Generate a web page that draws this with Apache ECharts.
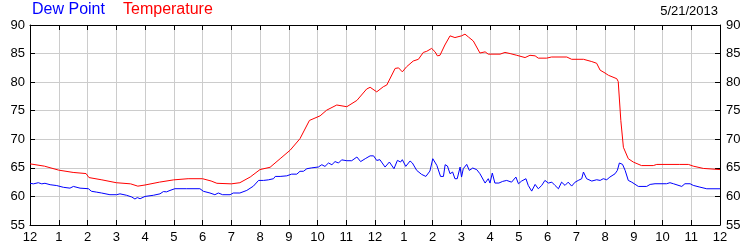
<!DOCTYPE html>
<html><head><meta charset="utf-8">
<script src="https://cdn.jsdelivr.net/npm/echarts@6/dist/echarts.min.js"></script>
<style>html,body{margin:0;padding:0;background:#fff}#c{width:750px;height:250px}</style>
</head><body><div id="c"></div>
<script>
var hourLabels = ['12','1','2','3','4','5','6','7','8','9','10','11','12','1','2','3','4','5','6','7','8','9','10','11','12'];
var yTicks = [55,60,65,70,75,80,85,90];

var tempHours = [0,0.5,1,1.5,1.95,2.05,2.5,3,3.5,3.75,4,4.5,5,5.5,6,6.3,6.5,7,7.3,7.66,8.0,8.35,8.7,9.05,9.39,9.72,10.09,10.32,10.67,11.02,11.37,11.71,11.83,12.06,12.29,12.41,12.70,12.82,12.95,13.10,13.33,13.51,13.68,13.80,13.97,14.09,14.17,14.26,14.43,14.61,14.78,15.01,15.13,15.25,15.42,15.65,15.83,15.94,16.35,16.52,16.70,16.93,17.22,17.39,17.57,17.68,17.97,18.14,18.67,18.84,19.25,19.54,19.71,19.83,20.0,20.12,20.41,20.46,20.55,20.64,20.81,20.99,21.27,21.68,21.8,22.6,22.9,23.07,23.42,24.0];
var tempValues = [65.7,65.3,64.6,64.2,64.0,63.3,62.9,62.4,62.2,61.8,62.0,62.5,62.9,63.1,63.1,62.7,62.3,62.2,62.4,63.4,64.7,65.1,66.6,68.1,70.1,73.3,74.1,75.1,76.0,75.7,76.8,78.8,79.1,78.3,79.2,79.5,82.4,82.5,81.8,82.7,83.7,84.0,85.2,85.4,85.9,85.3,84.6,84.7,86.5,88.1,87.8,88.1,88.4,87.9,87.2,85.1,85.3,84.9,84.9,85.2,85.0,84.7,84.3,84.7,84.6,84.2,84.2,84.4,84.4,84.0,84.0,83.6,83.3,82.1,81.6,81.2,80.6,80.1,73.3,68.6,66.6,66.0,65.4,65.4,65.6,65.6,65.6,65.3,64.9,64.7];

var dewHours = [0,0.12,0.29,0.41,0.52,0.70,0.93,1.16,1.39,1.51,1.57,1.74,2.03,2.14,2.32,2.49,2.78,3.01,3.13,3.36,3.54,3.65,3.73,3.83,4.0,4.29,4.52,4.64,4.70,4.75,4.87,5.04,5.45,5.91,6.03,6.26,6.43,6.55,6.61,6.70,6.96,7.07,7.30,7.54,7.77,7.95,8.12,8.29,8.47,8.53,8.70,8.93,9.10,9.28,9.39,9.51,9.63,9.80,10.03,10.15,10.26,10.38,10.50,10.61,10.73,10.84,11.02,11.19,11.37,11.5,11.66,11.83,11.95,12.06,12.17,12.35,12.50,12.66,12.78,12.89,12.95,13.07,13.22,13.30,13.45,13.62,13.77,13.91,14.01,14.15,14.28,14.38,14.44,14.52,14.61,14.70,14.78,14.86,14.96,15.01,15.07,15.19,15.28,15.40,15.54,15.65,15.83,15.94,16.0,16.08,16.17,16.31,16.44,16.58,16.75,16.90,16.99,17.10,17.25,17.33,17.45,17.57,17.68,17.80,17.91,18.03,18.15,18.26,18.32,18.38,18.49,18.61,18.72,18.84,18.96,19.07,19.19,19.25,19.36,19.54,19.71,19.83,19.94,20.06,20.17,20.35,20.43,20.50,20.61,20.70,20.81,20.93,21.16,21.45,21.57,21.62,21.74,22.14,22.26,22.38,22.67,22.78,22.96,23.07,23.30,23.54,24.0];
var dewValues = [62.3,62.2,62.4,62.2,62.3,62.05,61.9,61.6,61.45,61.75,61.45,61.45,61.35,60.9,60.75,60.6,60.3,60.3,60.45,60.2,59.9,59.55,59.8,59.6,60.0,60.2,60.45,60.85,61.05,60.8,61.05,61.35,61.35,61.35,60.9,60.6,60.3,60.6,60.75,60.3,60.3,60.6,60.6,61.05,61.8,62.8,62.8,62.9,63.1,63.5,63.5,63.6,63.9,63.9,64.4,64.4,64.85,65.0,65.15,65.55,65.25,65.85,65.55,66.1,65.85,66.4,66.25,66.25,66.9,66.1,66.6,67.1,67.1,66.3,66.43,65.14,66.02,64.85,66.31,66.02,66.43,65.26,66.2,65.85,64.56,63.86,63.5,64.44,66.6,65.44,63.5,63.5,65.55,65.32,63.97,64.27,63.1,63.1,65.14,63.39,64.85,65.61,64.56,64.97,64.68,63.97,62.34,63.1,62.34,64.09,62.34,62.34,62.63,62.8,62.5,63.39,62.22,62.69,63.1,61.93,60.93,62.1,61.34,61.93,62.8,62.34,62.5,61.93,62.22,61.34,62.5,61.93,62.5,61.81,62.5,62.8,63.1,64.27,63.1,62.69,62.92,62.8,63.1,62.92,63.39,63.97,64.56,65.85,65.61,64.56,62.8,62.5,61.75,61.75,62.1,61.75,62.22,62.22,62.4,62.22,61.75,62.22,62.22,61.93,61.63,61.34,61.34];

function pairs(xs, ys){ return xs.map(function(x,i){ return [x, ys[i]]; }); }

var FONT = 'Liberation Sans, Arial, sans-serif';
var chart = echarts.init(document.getElementById('c'), null, {renderer:'canvas'});
var xCommon = {
  type:'value', min:0, max:24, interval:1,
  axisLine:{show:true, onZero:false, lineStyle:{color:'#000', width:1}},
  axisTick:{show:true, inside:true, length:5, lineStyle:{color:'#000'}},
  splitLine:{show:true, lineStyle:{color:'#cccccc', width:1}}
};
var yCommon = {
  type:'value', min:yTicks[0], max:yTicks[yTicks.length-1], interval:5,
  axisLine:{show:true, onZero:false, lineStyle:{color:'#000', width:1}},
  axisTick:{show:true, inside:true, length:5, lineStyle:{color:'#000'}},
  splitLine:{show:true, lineStyle:{color:'#cccccc', width:1}}
};
chart.setOption({
  animation:false,
  backgroundColor:'#fff',
  title:[
    {text:'Dew Point', left:32, top:2, padding:0, textStyle:{color:'#0000ff', fontSize:16, fontWeight:'normal', fontFamily:FONT}},
    {text:'Temperature', left:123, top:2, padding:0, textStyle:{color:'#ff0000', fontSize:16, fontWeight:'normal', fontFamily:FONT}},
    {text:'5/21/2013', right:32, top:5, padding:0, textStyle:{color:'#000', fontSize:13, fontWeight:'normal', fontFamily:FONT}}
  ],
  grid:{left:30, right:30, top:25, bottom:25, containLabel:false},
  xAxis:[
    Object.assign({}, xCommon, {position:'bottom',
      axisLabel:{show:true, margin:6, color:'#000', fontSize:13, fontFamily:FONT,
        formatter:function(v){ return hourLabels[Math.round(v)]; }}}),
    Object.assign({}, xCommon, {position:'top', axisLabel:{show:false}, splitLine:{show:false}})
  ],
  yAxis:[
    Object.assign({}, yCommon, {position:'left',
      axisLabel:{show:true, margin:5, color:'#000', fontSize:13, fontFamily:FONT}}),
    Object.assign({}, yCommon, {position:'right', splitLine:{show:false},
      axisLabel:{show:true, margin:6, color:'#000', fontSize:13, fontFamily:FONT}})
  ],
  series:[
    {name:'Dew Point', type:'line', xAxisIndex:0, yAxisIndex:0, data:pairs(dewHours, dewValues),
      showSymbol:false, symbol:'none', lineStyle:{color:'#0000ff', width:1}, z:3},
    {name:'Temperature', type:'line', xAxisIndex:0, yAxisIndex:0, data:pairs(tempHours, tempValues),
      showSymbol:false, symbol:'none', lineStyle:{color:'#ff0000', width:1}, z:3}
  ]
});
</script></body></html>
